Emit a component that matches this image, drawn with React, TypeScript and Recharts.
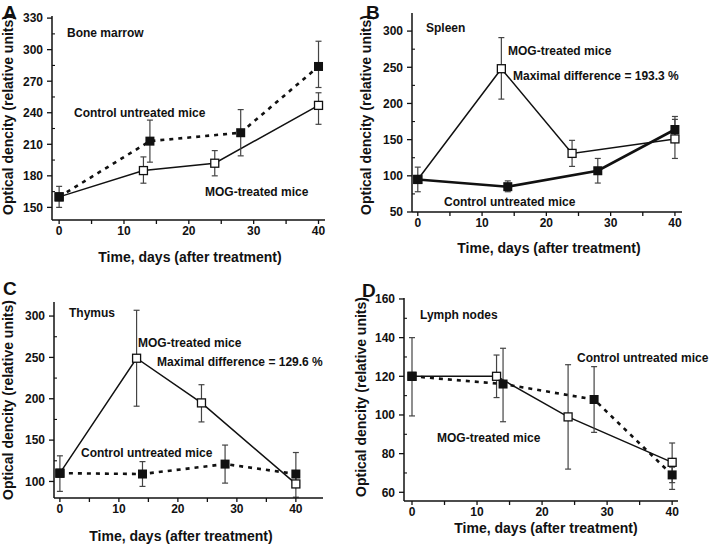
import React from "react"
import { LineChart, Line, XAxis, YAxis, ErrorBar } from "recharts"

const FONT = '"Liberation Sans", Arial, Helvetica, sans-serif'
const INK = "#111"

// A - bone marrow
const aCtrlDays = [0, 14, 28, 40]
const aCtrlVals = [160, 213, 221, 284]
const aCtrlLow = [150, 193, 199, 264]
const aCtrlHigh = [170, 233, 243, 308]
const aMogDays = [0, 13, 24, 40]
const aMogVals = [160, 185, 192, 247]
const aMogLow = [160, 173, 180, 229]
const aMogHigh = [160, 198, 204, 259]

// B - spleen
const bCtrlDays = [0, 14, 28, 40]
const bCtrlVals = [95, 85, 107, 164]
const bCtrlLow = [78, 78, 90, 148]
const bCtrlHigh = [112, 93, 124, 182]
const bMogDays = [0, 13, 24, 40]
const bMogVals = [95, 248, 131, 151]
const bMogLow = [95, 206, 113, 124]
const bMogHigh = [95, 291, 149, 178]

// C - thymus
const cCtrlDays = [0, 14, 28, 40]
const cCtrlVals = [110, 109, 121, 109]
const cCtrlLow = [88, 94, 98, 95]
const cCtrlHigh = [131, 124, 144, 135]
const cMogDays = [0, 13, 24, 40]
const cMogVals = [110, 249, 195, 97]
const cMogLow = [110, 191, 172, 81]
const cMogHigh = [110, 307, 217, 113]

// D - lymph nodes
const dCtrlDays = [0, 14, 28, 40]
const dCtrlVals = [120, 116, 108, 69]
const dCtrlLow = [99.5, 96.5, 91, 61.5]
const dCtrlHigh = [140, 134.5, 125, 73]
const dMogDays = [0, 13, 24, 40]
const dMogVals = [120, 120, 99, 75.5]
const dMogLow = [120, 109, 72, 65]
const dMogHigh = [120, 131, 126, 85.5]

const xTicks = [0, 5, 10, 15, 20, 25, 30, 35, 40]

const toRows = (days: number[], vals: number[], lo: number[], hi: number[]) =>
  days.map((d, i) => ({ x: d, y: vals[i], err: [vals[i] - lo[i], hi[i] - vals[i]] }))

const filledSquare = (p: any) => (
  <rect key={`f-${p.index}`} x={p.cx - 4.5} y={p.cy - 4.5} width={9} height={9} fill={INK} />
)
const openSquare = (p: any) => (
  <rect key={`o-${p.index}`} x={p.cx - 4} y={p.cy - 4} width={8} height={8} fill="#fff" stroke={INK} strokeWidth={1.3} />
)

const makeYTick = (majors: number[]) => (p: any) => {
  const v = p.payload.value
  const ax = p.x + 9
  if (majors.includes(v)) {
    return (
      <g>
        <line x1={ax - 5} x2={ax} y1={p.y} y2={p.y} stroke={INK} strokeWidth={1.3} />
        <text x={p.x} y={p.y} dy="0.36em" textAnchor="end" fontFamily={FONT} fontWeight="bold" fontSize={12} fill={INK}>
          {v}
        </text>
      </g>
    )
  }
  return <line x1={ax} x2={ax + 3} y1={p.y} y2={p.y} stroke={INK} strokeWidth={1.1} />
}

type PanelProps = {
  left: number
  top: number
  width: number
  height: number
  margin: { top: number; right: number; bottom: number; left: number }
  yWidth: number
  xDomain: [number, number]
  yDomain: [number, number]
  yMajor: number[]
  yMinor: number[]
  ctrl: any[]
  mog: any[]
  ctrlDash?: string
}

const Panel = (p: PanelProps) => {
  const yTicks = [...p.yMajor, ...p.yMinor].sort((a, b) => a - b)
  return (
    <div style={{ position: "absolute", left: p.left, top: p.top }}>
      <LineChart width={p.width} height={p.height} margin={p.margin}>
        <XAxis
          type="number"
          dataKey="x"
          domain={p.xDomain}
          ticks={xTicks}
          interval={0}
          allowDataOverflow
          height={25}
          tickSize={4}
          tickMargin={2}
          tickFormatter={(v: number) => (v % 10 === 0 ? String(v) : "")}
          axisLine={{ stroke: INK, strokeWidth: 1.5 }}
          tickLine={{ stroke: INK, strokeWidth: 1.3 }}
          tick={{ fill: INK, fontSize: 12, fontWeight: "bold", fontFamily: FONT }}
        />
        <YAxis
          type="number"
          domain={p.yDomain}
          ticks={yTicks}
          interval={0}
          allowDataOverflow
          width={p.yWidth}
          tickSize={5}
          tickMargin={4}
          tickLine={false}
          axisLine={{ stroke: INK, strokeWidth: 1.5 }}
          tick={makeYTick(p.yMajor)}
        />
        <Line
          data={p.mog}
          dataKey="y"
          stroke={INK}
          strokeWidth={1.5}
          dot={openSquare}
          activeDot={false}
          isAnimationActive={false}
        >
          <ErrorBar dataKey="err" width={3} stroke="#444" strokeWidth={1.2} direction="y" />
        </Line>
        <Line
          data={p.ctrl}
          dataKey="y"
          stroke={INK}
          strokeWidth={2.6}
          strokeDasharray={p.ctrlDash}
          dot={filledSquare}
          activeDot={false}
          isAnimationActive={false}
        >
          <ErrorBar dataKey="err" width={3} stroke="#444" strokeWidth={1.2} direction="y" />
        </Line>
      </LineChart>
    </div>
  )
}

const Note = ({ x, y, size = 12, children }: { x: number; y: number; size?: number; children: React.ReactNode }) => (
  <div
    style={{
      position: "absolute",
      left: x,
      top: y - size * 0.65,
      fontSize: size,
      lineHeight: `${Math.round(size * 1.3)}px`,
      fontWeight: "bold",
      whiteSpace: "nowrap",
      color: INK,
    }}
  >
    {children}
  </div>
)

const Centered = ({ x, y, rotate, children }: { x: number; y: number; rotate?: boolean; children: React.ReactNode }) => (
  <div
    style={{
      position: "absolute",
      left: x,
      top: y,
      fontSize: 14,
      lineHeight: "16px",
      fontWeight: "bold",
      whiteSpace: "nowrap",
      color: INK,
      transform: `translate(-50%, -50%)${rotate ? " rotate(-90deg)" : ""}`,
    }}
  >
    {children}
  </div>
)

const yTitle = "Optical dencity (relative units)"
const xTitle = "Time, days (after treatment)"

export default function App() {
  return (
    <div
      style={{
        position: "absolute",
        left: 0,
        top: 0,
        width: 709,
        height: 546,
        background: "#fff",
        fontFamily: FONT,
        overflow: "hidden",
      }}
    >
      <Panel
        left={0}
        top={0}
        width={335}
        height={250}
        margin={{ top: 16, right: 10, bottom: 5, left: 0 }}
        yWidth={52}
        xDomain={[-1.1, 41]}
        yDomain={[138, 332]}
        yMajor={[150, 180, 210, 240, 270, 300, 330]}
        yMinor={[165, 195, 225, 255, 285, 315]}
        ctrl={toRows(aCtrlDays, aCtrlVals, aCtrlLow, aCtrlHigh)}
        mog={toRows(aMogDays, aMogVals, aMogLow, aMogHigh)}
        ctrlDash="4 5"
      />
      <Panel
        left={360}
        top={0}
        width={330}
        height={250}
        margin={{ top: 13, right: 8, bottom: 13, left: 0 }}
        yWidth={52}
        xDomain={[-0.9, 41.1]}
        yDomain={[50, 325]}
        yMajor={[50, 100, 150, 200, 250, 300]}
        yMinor={[75, 125, 175, 225, 275]}
        ctrl={toRows(bCtrlDays, bCtrlVals, bCtrlLow, bCtrlHigh)}
        mog={toRows(bMogDays, bMogVals, bMogLow, bMogHigh)}
      />
      <Panel
        left={0}
        top={280}
        width={335}
        height={250}
        margin={{ top: 22, right: 12, bottom: 7, left: 0 }}
        yWidth={54}
        xDomain={[-1, 44.6]}
        yDomain={[80, 317]}
        yMajor={[100, 150, 200, 250, 300]}
        yMinor={[125, 175, 225, 275]}
        ctrl={toRows(cCtrlDays, cCtrlVals, cCtrlLow, cCtrlHigh)}
        mog={toRows(cMogDays, cMogVals, cMogLow, cMogHigh)}
        ctrlDash="4 5"
      />
      <Panel
        left={355}
        top={280}
        width={335}
        height={250}
        margin={{ top: 18, right: 12, bottom: 4, left: 0 }}
        yWidth={49}
        xDomain={[-1.23, 40.9]}
        yDomain={[55.5, 160.5]}
        yMajor={[60, 80, 100, 120, 140, 160]}
        yMinor={[70, 90, 110, 130, 150]}
        ctrl={toRows(dCtrlDays, dCtrlVals, dCtrlLow, dCtrlHigh)}
        mog={toRows(dMogDays, dMogVals, dMogLow, dMogHigh)}
        ctrlDash="4 5"
      />

      <Note x={3} y={12} size={19}>A</Note>
      <Note x={67} y={33}>Bone marrow</Note>
      <Note x={74} y={113}>Control untreated mice</Note>
      <Note x={205} y={192}>MOG-treated mice</Note>
      <Centered x={8} y={115} rotate>{yTitle}</Centered>
      <Centered x={190} y={257}>{xTitle}</Centered>

      <Note x={366} y={12} size={19}>B</Note>
      <Note x={426} y={28}>Spleen</Note>
      <Note x={508} y={51}>MOG-treated mice</Note>
      <Note x={513} y={76}>Maximal difference = 193.3 %</Note>
      <Note x={444} y={202}>Control untreated mice</Note>
      <Centered x={366} y={115} rotate>{yTitle}</Centered>
      <Centered x={549} y={248}>{xTitle}</Centered>

      <Note x={3} y={288} size={19}>C</Note>
      <Note x={69} y={313}>Thymus</Note>
      <Note x={138} y={343}>MOG-treated mice</Note>
      <Note x={157} y={362}>Maximal difference = 129.6 %</Note>
      <Note x={81} y={453}>Control untreated mice</Note>
      <Centered x={8} y={400} rotate>{yTitle}</Centered>
      <Centered x={181} y={536}>{xTitle}</Centered>

      <Note x={362} y={290} size={19}>D</Note>
      <Note x={420} y={315}>Lymph nodes</Note>
      <Note x={577} y={358}>Control untreated mice</Note>
      <Note x={437} y={438}>MOG-treated mice</Note>
      <Centered x={361} y={397} rotate>{yTitle}</Centered>
      <Centered x={546} y={528}>{xTitle}</Centered>
    </div>
  )
}
